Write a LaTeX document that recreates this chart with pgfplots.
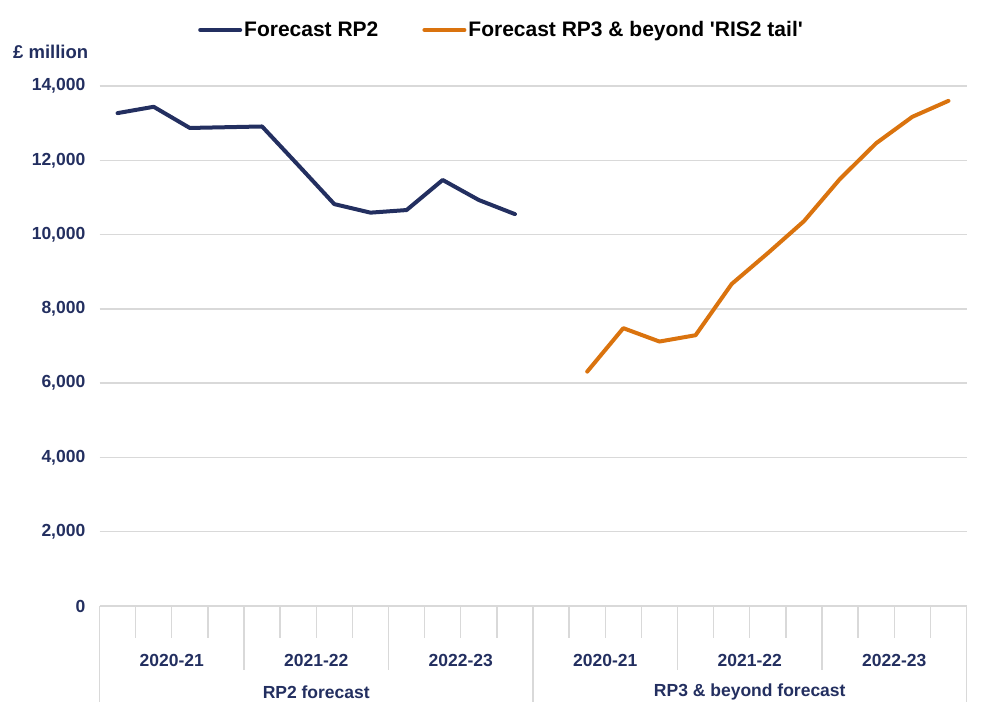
\documentclass[border=0pt]{standalone}
\usepackage{fontspec}
\setmainfont{Liberation Sans}[Ligatures=TeXOff]
\usepackage{pgfplots}
\pgfplotsset{compat=1.18}
\definecolor{navy}{RGB}{35,47,96}
\definecolor{orng}{RGB}{218,115,14}
\definecolor{gridc}{RGB}{217,217,217}
\tikzset{catlab/.style={text=navy, font=\fontsize{17.5}{20}\selectfont\bfseries, inner sep=0pt}}
\begin{document}
\begin{tikzpicture}[x=1pt,y=1pt]
\path[use as bounding box] (0,0) rectangle (1003,725);
\node[anchor=west, text=navy, font=\fontsize{18.5}{22}\selectfont\bfseries, inner sep=0pt] at (13,673) {£ million};
\begin{axis}[
  at={(99.5pt,119pt)}, anchor=south west,
  scale only axis, width=867pt, height=520pt,
  xmin=-0.5, xmax=23.5, ymin=0, ymax=14000,
  xtick=\empty, ytick={0,2000,...,14000},
  ymajorgrids, grid style={gridc, line width=1.3pt},
  axis line style={draw=none}, major tick length=0pt,
  yticklabel style={font=\fontsize{17.5}{20}\selectfont\bfseries, text=navy, inner sep=0pt, xshift=-14pt},
  /pgf/number format/assume math mode=true,
  /pgf/number format/1000 sep={,},
  scaled y ticks=false,
  clip=false,
  legend columns=2,
  legend style={at={(0.4637,1.1077)}, anchor=center, draw=none, fill=none,
    font=\fontsize{21}{24}\selectfont\bfseries, text=black,
    /tikz/every even column/.append style={column sep=42pt}},
  legend image code/.code={\draw[#1] (0pt,0pt) -- (40pt,0pt);},
]
\addplot[navy, line width=4pt, line cap=round, line join=round] coordinates {
(0,13270) (1,13440) (2,12870) (3,12890) (4,12910) (5,11870) (6,10820) (7,10590) (8,10660) (9,11470) (10,10930) (11,10550)
};
\addlegendentry{Forecast RP2}
\addplot[orng, line width=4pt, line cap=round, line join=round] coordinates {
(13,6310) (14,7480) (15,7120) (16,7290) (17,8670) (18,9500) (19,10360) (20,11500) (21,12460) (22,13170) (23,13600)
};
\addlegendentry{Forecast RP3 \& beyond 'RIS2 tail'}
% category tick lines
\pgfplotsinvokeforeach{0.5,1.5,2.5,4.5,5.5,6.5,8.5,9.5,10.5,12.5,13.5,14.5,16.5,17.5,18.5,20.5,21.5,22.5}{
  \draw[gridc, line width=1.3pt] (axis cs:#1,0) -- ++(0pt,-32pt);
}
\pgfplotsinvokeforeach{3.5,7.5,15.5,19.5}{
  \draw[gridc, line width=1.3pt] (axis cs:#1,0) -- ++(0pt,-64pt);
}
\pgfplotsinvokeforeach{-0.5,11.5,23.5}{
  \draw[gridc, line width=1.3pt] (axis cs:#1,0) -- ++(0pt,-96pt);
}
\node[catlab] at ([yshift=-54pt]axis cs:1.5,0) {2020-21};
\node[catlab] at ([yshift=-54pt]axis cs:5.5,0) {2021-22};
\node[catlab] at ([yshift=-54pt]axis cs:9.5,0) {2022-23};
\node[catlab] at ([yshift=-54pt]axis cs:13.5,0) {2020-21};
\node[catlab] at ([yshift=-54pt]axis cs:17.5,0) {2021-22};
\node[catlab] at ([yshift=-54pt]axis cs:21.5,0) {2022-23};
\node[catlab] at ([yshift=-86pt]axis cs:5.5,0) {RP2 forecast};
\node[catlab] at ([yshift=-86pt]axis cs:17.5,0) {RP3 \& beyond forecast};
\end{axis}
\end{tikzpicture}
\end{document}
